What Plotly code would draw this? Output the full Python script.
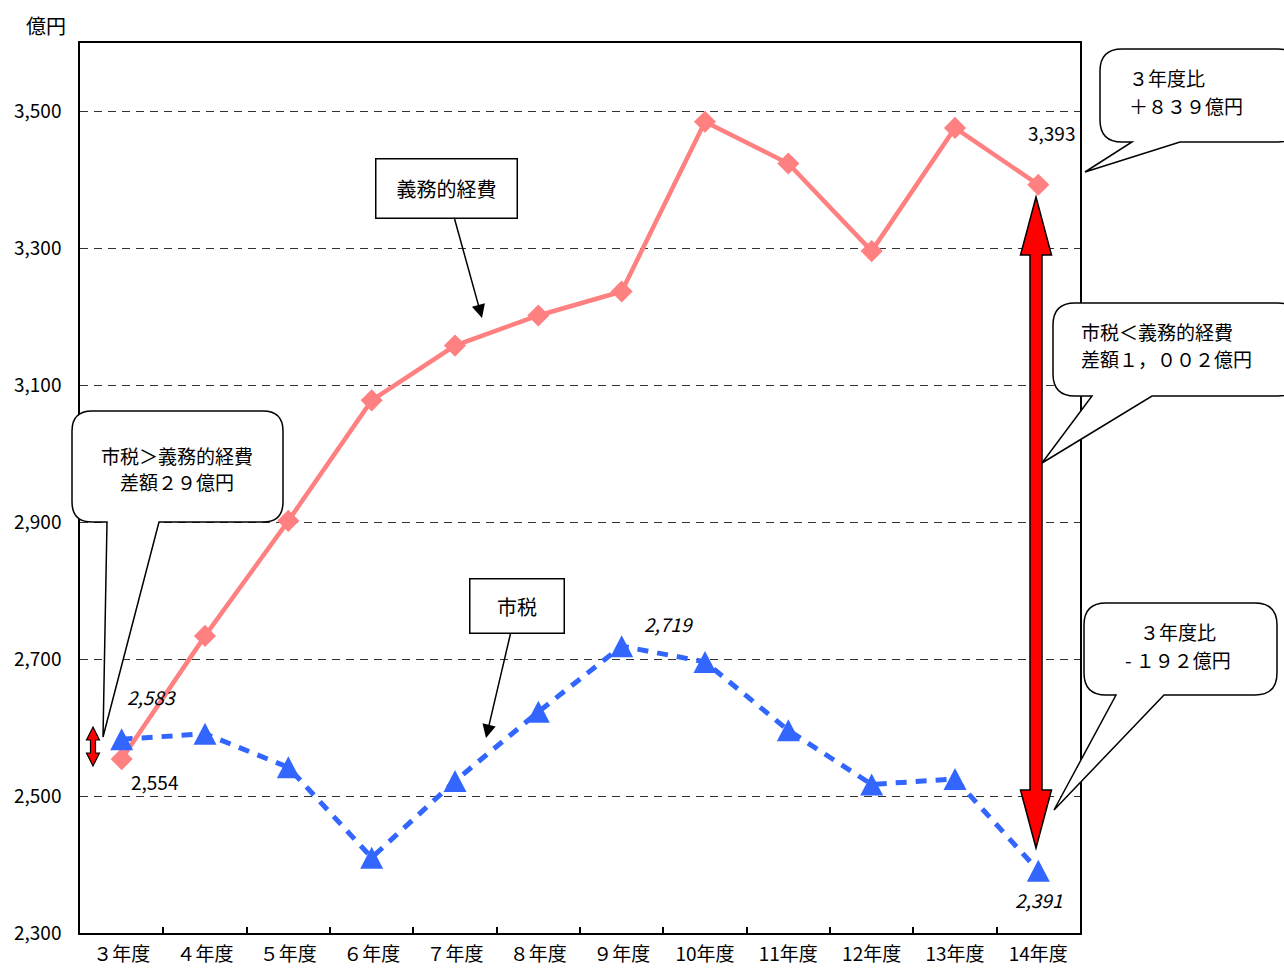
import plotly.graph_objects as go

# ---------------- data ----------------
categories = ["３年度", "４年度", "５年度", "６年度", "７年度", "８年度",
              "９年度", "10年度", "11年度", "12年度", "13年度", "14年度"]
gimu_keihi = [2554, 2734, 2902, 3078, 3158, 3202, 3237, 3485, 3424, 3296, 3476, 3393]   # 義務的経費
shizei = [2583, 2591, 2542, 2410, 2522, 2623, 2719, 2696, 2596, 2517, 2525, 2391]       # 市税
y_ticks = [2300, 2500, 2700, 2900, 3100, 3300, 3500]
y_range = [2300, 3600]

# ---------------- style ----------------
FONT = "Noto Sans CJK JP, Noto Sans, sans-serif"
RED = "#FF8080"
BLUE = "#3366FF"
W, H = 1284, 969
PL, PR, PT, PB = 80, 1080, 43, 933   # plot area in pixels


def fx(x):
    return (x - PL) / (PR - PL)


def fy(y):
    return (PB - y) / (PB - PT)


def pth(cmds):
    out = []
    for c, pts in cmds:
        out.append(c + " " + " ".join(f"{fx(x):.5f},{fy(y):.5f}" for x, y in pts))
    return " ".join(out) + " Z"


def callout(x0, y0, x1, y1, r, b0, b1, tx, ty):
    return pth([
        ("M", [(x0 + r, y0)]),
        ("L", [(x1 - r, y0)]),
        ("Q", [(x1, y0), (x1, y0 + r)]),
        ("L", [(x1, y1 - r)]),
        ("Q", [(x1, y1), (x1 - r, y1)]),
        ("L", [(b1, y1)]),
        ("L", [(tx, ty)]),
        ("L", [(b0, y1)]),
        ("L", [(x0 + r, y1)]),
        ("Q", [(x0, y1), (x0, y1 - r)]),
        ("L", [(x0, y0 + r)]),
        ("Q", [(x0, y0), (x0 + r, y0)]),
    ])


def dbl_arrow(cx, yt, yb, hw, hl, sw):
    pts = [(cx, yt), (cx + hw / 2, yt + hl), (cx + sw / 2, yt + hl), (cx + sw / 2, yb - hl),
           (cx + hw / 2, yb - hl), (cx, yb), (cx - hw / 2, yb - hl), (cx - sw / 2, yb - hl),
           (cx - sw / 2, yt + hl), (cx - hw / 2, yt + hl)]
    return pth([("M" if i == 0 else "L", [p]) for i, p in enumerate(pts)])


fig = go.Figure()

fig.add_trace(go.Scatter(
    x=categories, y=shizei, name="市税", mode="lines",
    line=dict(color=BLUE, width=5, dash="11px,9px"),
))
fig.add_trace(go.Scatter(
    x=categories, y=gimu_keihi, name="義務的経費", mode="lines+markers",
    line=dict(color=RED, width=4.5),
    marker=dict(symbol="diamond", size=17, color=RED),
))

shapes = []
# triangle markers for 市税, anchored at the data points
for c, v in zip(categories, shizei):
    shapes.append(dict(type="path", xref="x", yref="y", xsizemode="pixel", ysizemode="pixel",
                       xanchor=c, yanchor=v, path="M -11.5,-11 L 11.5,-11 L 0,11 Z",
                       fillcolor=BLUE, line=dict(width=0), layer="above"))

# callouts
for p in [callout(72, 411, 283, 522, 20, 107, 159, 103, 737),
          callout(1100, 49, 1300, 142, 22, 1132, 1180, 1085, 172),
          callout(1053, 303, 1300, 396, 22, 1092, 1152, 1042, 463),
          callout(1084, 603, 1277, 695, 22, 1116, 1164, 1054, 810)]:
    shapes.append(dict(type="path", xref="paper", yref="paper", path=p,
                       fillcolor="white", line=dict(color="black", width=1.5), layer="above"))

# red double arrows
shapes.append(dict(type="path", xref="paper", yref="paper", path=dbl_arrow(1036, 197, 848, 31, 58, 12),
                   fillcolor="#FF0000", line=dict(color="black", width=1.5), layer="above"))
shapes.append(dict(type="path", xref="paper", yref="paper", path=dbl_arrow(93, 727, 766, 13, 13, 5),
                   fillcolor="#FF0000", line=dict(color="black", width=1.2), layer="above"))

annotations = []
# axis unit
annotations.append(dict(text="億円", xref="paper", yref="paper", x=fx(46), y=fy(26),
                        showarrow=False, font=dict(size=20), xanchor="center", yanchor="middle"))


# data labels
def dlabel(series, i, dx, dy, italic):
    t = f"{series[i]:,}"
    if italic:
        t = "<i>" + t + "</i>"
    annotations.append(dict(text=t, xref="x", yref="y", x=categories[i], y=series[i],
                            xshift=dx, yshift=dy, showarrow=False, font=dict(size=19)))


dlabel(shizei, 0, 30, 43, True)
dlabel(gimu_keihi, 0, 33, -22, False)
dlabel(shizei, 6, 47, 23, True)
dlabel(gimu_keihi, 11, 13, 52, False)
dlabel(shizei, 11, 0, -29, True)

# series label boxes with arrows
annotations.append(dict(text="義務的経費", xref="paper", yref="paper", x=fx(482), y=fy(318),
                        ax=-36, ay=-130, showarrow=True, arrowhead=2, arrowsize=1.8, arrowwidth=1.5,
                        arrowcolor="black", bordercolor="black", borderwidth=1.5, borderpad=2,
                        bgcolor="white", width=136, height=54, font=dict(size=20)))
annotations.append(dict(text="市税", xref="paper", yref="paper", x=fx(486), y=fy(738),
                        ax=31, ay=-132, showarrow=True, arrowhead=2, arrowsize=1.8, arrowwidth=1.5,
                        arrowcolor="black", bordercolor="black", borderwidth=1.5, borderpad=2,
                        bgcolor="white", width=89, height=49, font=dict(size=20)))


# callout texts, one annotation per line
def ctext(lines, x, y_first, anchor, pitch=27):
    for k, t in enumerate(lines):
        annotations.append(dict(text=t, xref="paper", yref="paper", x=fx(x), y=fy(y_first + k * pitch),
                                showarrow=False, xanchor=anchor, yanchor="middle",
                                font=dict(size=19)))


ctext(["市税＞義務的経費", "差額２９億円"], 177, 455, "center", 26)
ctext(["３年度比", "＋８３９億円"], 1127, 78, "left")
ctext(["市税＜義務的経費", "差額１，００２億円"], 1079, 331, "left")
ctext(["３年度比", "- １９２億円"], 1178, 631, "center", 28)

fig.update_layout(
    width=W, height=H,
    margin=dict(l=PL, r=W - PR, t=PT, b=H - PB, pad=0),
    paper_bgcolor="white", plot_bgcolor="white",
    showlegend=False,
    font=dict(family=FONT, size=19, color="black"),
    shapes=shapes, annotations=annotations,
)
fig.update_xaxes(type="category", categoryorder="array", categoryarray=categories,
                 range=[-0.5, len(categories) - 0.5], automargin=False,
                 tickson="boundaries", ticks="inside", ticklen=6, tickwidth=1.5, tickcolor="black",
                 showline=True, linecolor="black", linewidth=1.5, mirror=True, showgrid=False,
                 tickfont=dict(size=19), ticklabelstandoff=3)
fig.update_yaxes(range=y_range, tickvals=y_ticks, tickformat=",d", ticks="", automargin=False,
                 showline=True, linecolor="black", linewidth=1.5, mirror=True,
                 showgrid=True, gridcolor="#333333", gridwidth=1, griddash="8px,6px",
                 zeroline=False, tickfont=dict(size=19), ticklabelstandoff=13)

fig.write_html("out.html", config={"displayModeBar": False})
